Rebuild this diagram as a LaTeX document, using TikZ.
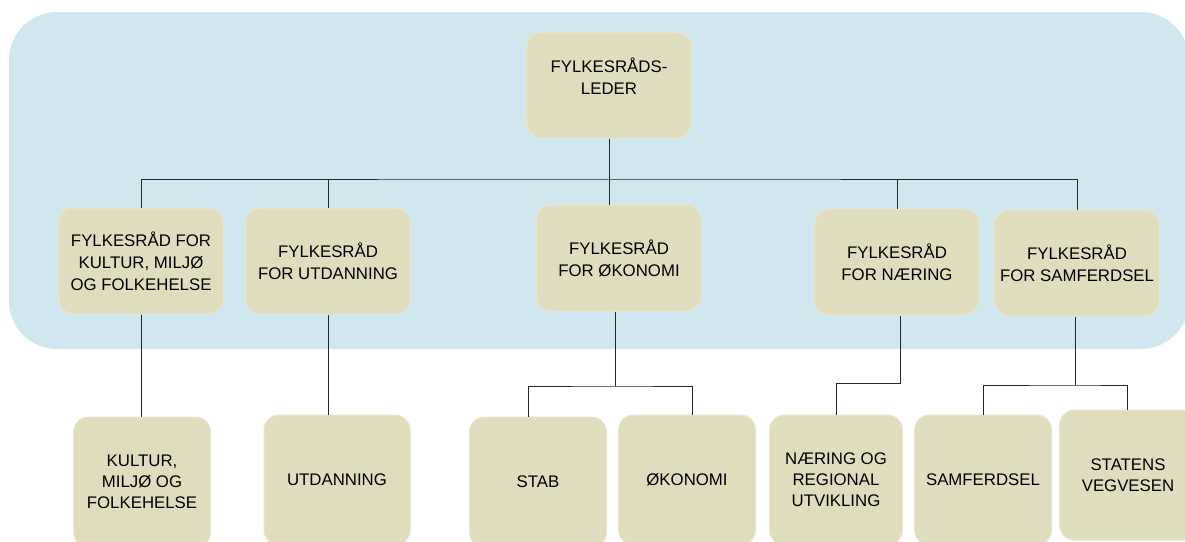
\documentclass[tikz,border=0pt]{standalone}
\usepackage{fontspec}
\setmainfont{Liberation Sans}
\usetikzlibrary{calc}
\definecolor{panelblue}{RGB}{208,231,240}
\definecolor{boxfill}{RGB}{224,221,191}
\definecolor{boxedge}{RGB}{232,230,206}
\tikzset{box/.style={draw=boxedge,line width=1pt,fill=boxfill,rounded corners=15pt,
    align=center,inner sep=0pt,minimum width=165pt,minimum height=106pt,
    font=\fontsize{16.8}{22}\selectfont}}
\tikzset{sub/.style={box,minimum width=137pt,minimum height=130pt,font=\fontsize{16.8}{21}\selectfont}}
\tikzset{wire/.style={black!85,line width=0.9pt}}

\begin{document}
\begin{tikzpicture}[x=1pt,y=-1pt]
    \useasboundingbox (0,0) rectangle (1185,541);
    \clip (0,0) rectangle (1185,541);
    \fill [panelblue,rounded corners=48pt] (9,12) rectangle (1189,349);
    % top
    \node at (609,85) [box] (leder) {FYLKESRÅDS-\\LEDER\\[-4pt]};
    % fylkesråder
    \node at (141,261) [box] (kultur) {FYLKESRÅD FOR\\KULTUR, MILJØ\\OG FOLKEHELSE};
    \node at (328,261) [box] (utd) {FYLKESRÅD\\FOR UTDANNING};
    \node at (619,258) [box] (okon) {FYLKESRÅD\\FOR ØKONOMI};
    \node at (897,262) [box] (naer) {FYLKESRÅD\\FOR NÆRING};
    \node at (1077,263) [box] (samf) {FYLKESRÅD\\FOR SAMFERDSEL};
    % avdelinger
    \node at (142,482) [sub] (kulturavd) {KULTUR,\\MILJØ OG\\FOLKEHELSE};
    \node at (337,480) [sub,minimum width=146pt] (utdavd) {UTDANNING};
    \node at (538,482) [sub] (stab) {STAB};
    \node at (687,480) [sub] (okonavd) {ØKONOMI};
    \node at (836,480) [sub,minimum width=133pt] (naeravd) {NÆRING OG\\REGIONAL\\UTVIKLING};
    \node at (983,480) [sub] (samfavd) {SAMFERDSEL};
    \node at (1128,475) [sub] (svv) {STATENS\\VEGVESEN};
    % linjer
    \coordinate (bus) at (609,179);
    \draw [wire] (leder.south) -- (bus);
    \draw [wire] (kultur.north) |- (bus) -| (samf.north);
    \draw [wire] (utd.north) -- (utd.north |- bus);
    \draw [wire] (bus) -- (bus |- okon.north);
    \draw [wire] (naer.north) -- (naer.north |- bus);
    \draw [wire] (kultur.south) -- (kultur.south |- kulturavd.north);
    \draw [wire] (utd.south) -- (utd.south |- utdavd.north);
    \coordinate (okonbus) at (615,386);
    \draw [wire] (okonbus |- okon.south) -- (okonbus);
    \draw [wire] ([xshift=-10pt]stab.north) |- (okonbus) -| ([xshift=5pt]okonavd.north);
    \coordinate (naerbus) at (900,383);
    \draw [wire] (naerbus |- naer.south) -- (naerbus) -| (naeravd.north);
    \coordinate (samfbus) at (1075,385);
    \draw [wire] (samfbus |- samf.south) -- (samfbus);
    \draw [wire] (samfavd.north) |- (samfbus) -| ([xshift=-1pt]svv.north);
\end{tikzpicture}
\end{document}
